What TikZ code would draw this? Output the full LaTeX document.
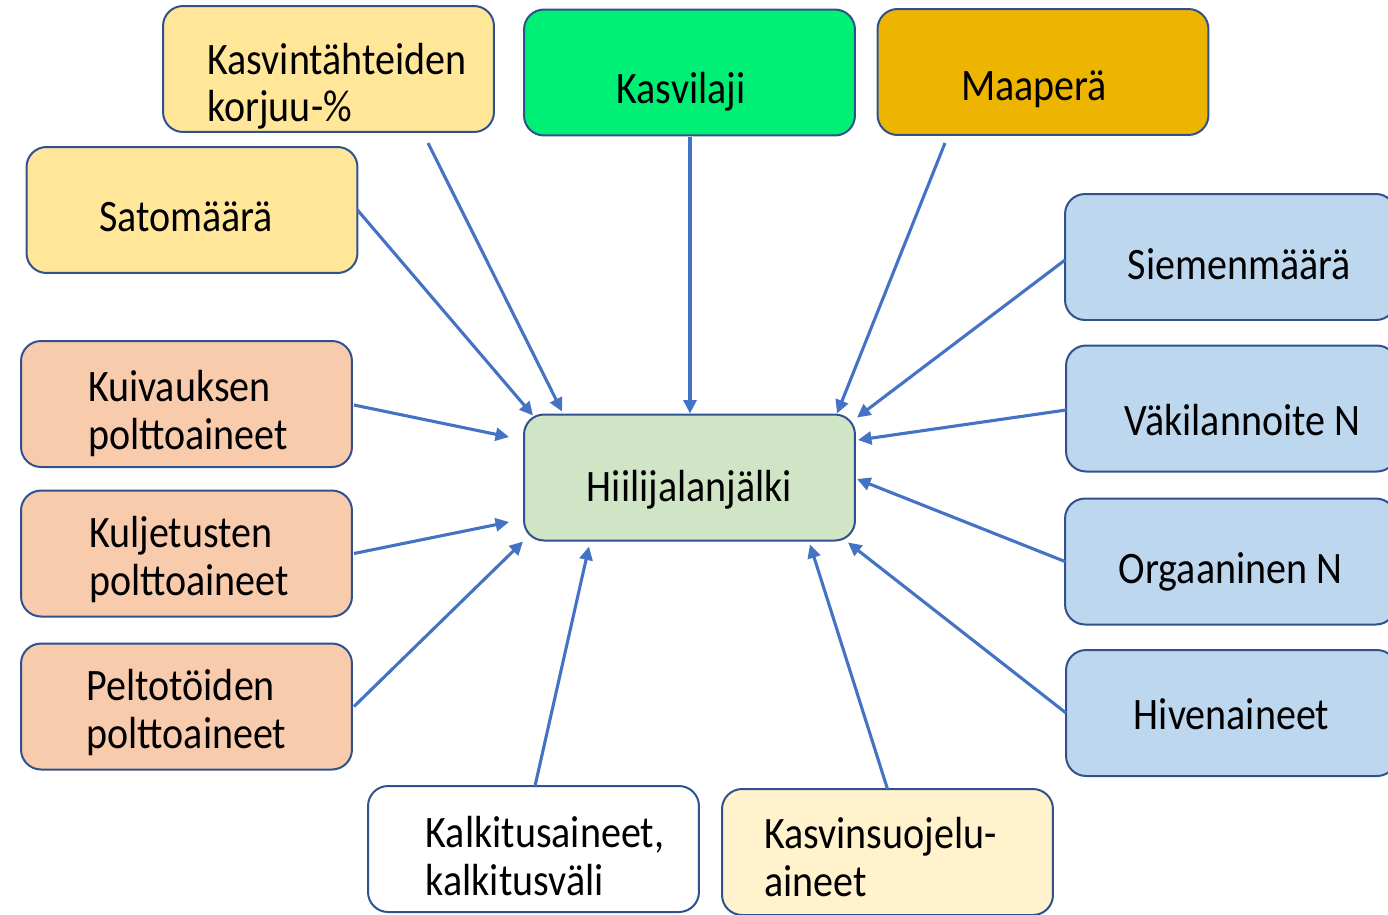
\documentclass[tikz,border=0pt]{standalone}
\usepackage{fontspec}
\setmainfont{Carlito}[FakeStretch=0.89]
\usetikzlibrary{arrows.meta, calc}
\definecolor{reuna}{HTML}{2F528F}
\definecolor{nuoli}{HTML}{4472C4}
\definecolor{keltainen}{HTML}{FFE699}
\definecolor{vihrea}{HTML}{00F076}
\definecolor{kulta}{HTML}{EDB400}
\definecolor{persikka}{HTML}{F8CBAD}
\definecolor{sininen}{HTML}{BDD7EE}
\definecolor{lehti}{HTML}{D0E4C6}
\definecolor{kerma}{HTML}{FFF2CC}
\tikzset{>={Triangle[length=0.27cm, width=0.26cm]}}
\tikzset{laatikko/.style = {draw = reuna, line width = 0.04cm, rounded corners = 0.4cm,
		minimum width = 6.62cm, minimum height = 2.52cm, inner sep = 0pt, outer sep = 0pt,
		align = left, font = \fontsize{25.6pt}{27.3pt}\selectfont, text depth = 0pt},
	nuolet/.style = {draw = nuoli, line width = 0.062cm, ->}}
\begin{document}
\begin{tikzpicture}[x = 0.02cm, y = -0.02cm]
	\useasboundingbox (0, 0) rectangle (1388, 914);
	\node[laatikko, fill = keltainen, text height = 2.12cm] (korjuu) at (328.5, 69) {\hspace*{0.34cm}Kasvintähteiden\\\hspace*{0.34cm}korjuu-\%};
	\node[laatikko, fill = vihrea, text height = 1.24cm] (kasvi) at (689.5, 72.5) {Kasvilaji\hspace*{0.34cm}};
	\node[laatikko, fill = kulta, text height = 1.12cm] (maa) at (1043, 72) {Maaperä\hspace*{0.36cm}};
	\node[laatikko, fill = keltainen, text height = 0.86cm] (sato) at (192, 210) {Satomäärä\hspace*{0.24cm}};
	\node[laatikko, fill = persikka, text height = 1.8cm] (kuiv) at (186.5, 404) {\hspace*{0.06cm}Kuivauksen\\\hspace*{0.06cm}polttoaineet};
	\node[laatikko, fill = persikka, text height = 1.66cm] (kulj) at (186.5, 553.5) {\hspace*{0.1cm}Kuljetusten\\\hspace*{0.1cm}polttoaineet};
	\node[laatikko, fill = persikka, text height = 1.68cm] (pelto) at (186.5, 706.5) {Peltotöiden\\polttoaineet};
	\node[laatikko, fill = lehti, text height = 0.96cm] (hiili) at (689.5, 477.5) {Hiilijalanjälki};
	\node[laatikko, fill = sininen, text height = 0.88cm] (siemen) at (1230.5, 257) {\hspace*{0.36cm}Siemenmäärä};
	\node[laatikko, fill = sininen, text height = 1.08cm] (vaki) at (1231.5, 408.5) {\hspace*{0.44cm}Väkilannoite N};
	\node[laatikko, fill = sininen, text height = 0.88cm] (orgaan) at (1230.5, 561.5) {Orgaaninen N};
	\node[laatikko, fill = sininen, text height = 0.64cm] (hiven) at (1231.5, 713) {Hivenaineet};
	\node[laatikko, fill = white, text height = 1.86cm] (kalk) at (533.5, 849) {\hspace*{0.46cm}Kalkitusaineet,\\\hspace*{0.46cm}kalkitusväli};
	\node[laatikko, fill = kerma, text height = 1.77cm] (suoj) at (887.5, 852) {Kasvinsuojelu-\hspace*{0.28cm}\\aineet};

	\draw[nuolet] ($(korjuu.south) + (99.5, 11)$) -- ($(hiili.north) + (-127.5, -3)$);
	\draw[nuolet] (sato.east) -- ($(hiili.north west) + (9, 1)$);
	\draw[nuolet] ($(kasvi.south) + (0.5, 2)$) -- ($(hiili.north) + (0.5, -1)$);
	\draw[nuolet] ($(maa.south) + (-98, 8)$) -- ($(hiili.north) + (147.5, -1)$);
	\draw[nuolet] ($(siemen.west) + (0, 3)$) -- ($(hiili.north east) + (2, 3)$);
	\draw[nuolet] ($(vaki.west) + (0, 1.5)$) -- ($(hiili.east) + (3, -37.5)$);
	\draw[nuolet] (orgaan.west) -- ($(hiili.east) + (2, 1.5)$);
	\draw[nuolet] (hiven.west) -- ($(hiili.south east) + (-7, 2)$);
	\draw[nuolet] (suoj.north) -- ($(hiili.south) + (120.5, 4)$);
	\draw[nuolet] ($(kalk.north) + (1.5, 0)$) -- ($(hiili.south) + (-100.5, 6)$);
	\draw[nuolet] ($(pelto.east) + (2, 0)$) -- ($(hiili.south west) + (-1, 1)$);
	\draw[nuolet] ($(kulj.east) + (2, 0)$) -- ($(hiili.west) + (-15, 44.5)$);
	\draw[nuolet] ($(kuiv.east) + (2, 1)$) -- ($(hiili.west) + (-15, -40.5)$);
\end{tikzpicture}
\end{document}
